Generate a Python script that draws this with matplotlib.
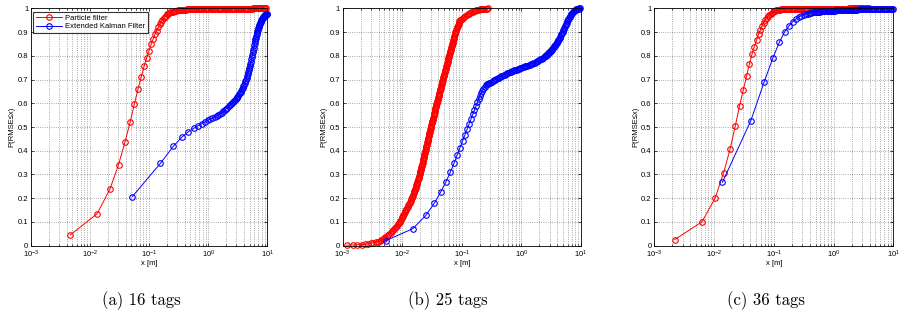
import matplotlib
matplotlib.use("Agg")
import numpy as np
import matplotlib.pyplot as plt
from matplotlib.ticker import FixedLocator, LogLocator, NullFormatter

plt.rcParams["font.family"] = ["Liberation Sans", "DejaVu Sans"]
plt.rcParams["mathtext.fontset"] = "custom"
plt.rcParams["mathtext.rm"] = "Liberation Sans"
plt.rcParams["mathtext.it"] = "Liberation Sans:italic"
plt.rcParams["mathtext.bf"] = "Liberation Sans:bold"

# ---------------- (a) 16 tags ----------------
pf_a_x = [0.0046, 0.0132, 0.0218, 0.0304, 0.0390, 0.0476, 0.0562, 0.0648, 0.0734, 0.0820,
          0.0906, 0.0992, 0.1078, 0.1164, 0.1250, 0.1336, 0.1422, 0.1508, 0.1594, 0.1680,
          0.1766, 0.1852, 0.1938, 0.2024, 0.2110, 0.2196,
          0.22909, 0.23988, 0.25119, 0.26303, 0.27542, 0.28840, 0.30200, 0.31623, 0.33113, 0.34674,
          0.36308, 0.38019, 0.39811, 0.41687, 0.43652, 0.45709, 0.47863, 0.50119, 0.52481, 0.54954,
          0.57544, 0.60256, 0.63096, 0.66069, 0.69183, 0.72444, 0.75858, 0.79433, 0.83176, 0.87096,
          0.91201, 0.95499,
          1.0000, 1.0471, 1.0965, 1.1482, 1.2023, 1.2589, 1.3183, 1.3804, 1.4454, 1.5136,
          1.5849, 1.6596, 1.7378, 1.8197, 1.9055, 1.9953, 2.0893, 2.1878, 2.2909, 2.3988,
          2.5119, 2.6303, 2.7542, 2.8840, 3.0200, 3.1623, 3.3113, 3.4674, 3.6308, 3.8019,
          3.9811, 4.1687, 4.3652, 4.5709, 4.7863, 5.0119, 5.2481, 5.4954, 5.7544, 6.0256,
          6.3096, 6.6069, 6.9183, 7.2444, 7.5858, 7.9433, 8.3176, 8.7096, 9.1201, 9.5499]
pf_a_y = [0.045, 0.135, 0.240, 0.342, 0.437, 0.520, 0.597, 0.660, 0.711, 0.755,
          0.791, 0.822, 0.848, 0.870, 0.890, 0.906, 0.920, 0.932, 0.942, 0.951,
          0.958, 0.964, 0.969, 0.974, 0.978, 0.981,
          0.983, 0.985, 0.986, 0.988, 0.989, 0.990, 0.991, 0.992, 0.992, 0.993,
          0.993, 0.994, 0.994, 0.994, 0.995, 0.995, 0.995, 0.995, 0.996, 0.996,
          0.996, 0.996, 0.996, 0.997, 0.997, 0.997, 0.997, 0.997, 0.997, 0.997,
          0.997, 0.998,
          0.998, 0.998, 0.998, 0.998, 0.998, 0.998, 0.998, 0.998, 0.998, 0.998,
          0.998, 0.998, 0.998, 0.998, 0.998, 0.998, 0.998, 0.998, 0.998, 0.998,
          0.998, 0.998, 0.998, 0.998, 0.998, 0.998, 0.998, 0.998, 0.999, 0.999,
          0.999, 0.999, 0.999, 0.999, 0.999, 0.999, 0.999, 0.999, 1.000, 1.000,
          1.000, 1.000, 1.000, 1.000, 1.000, 1.000, 1.000, 1.000, 1.000, 1.000]

ekf_a_x = [0.052, 0.155, 0.257, 0.360, 0.462, 0.565, 0.668, 0.770, 0.873, 0.975,
           1.078, 1.181, 1.283, 1.386, 1.488, 1.591, 1.694, 1.796, 1.899, 2.001,
           2.104, 2.207, 2.309, 2.412, 2.514, 2.617, 2.720, 2.822, 2.925, 3.027,
           3.130, 3.233, 3.335, 3.438, 3.540, 3.643, 3.746, 3.848, 3.951, 4.053,
           4.156, 4.259, 4.361, 4.464, 4.566, 4.669, 4.772, 4.874, 4.977, 5.079,
           5.182, 5.285, 5.387, 5.490, 5.592, 5.695, 5.798, 5.900, 6.003, 6.105,
           6.208, 6.311, 6.413, 6.516, 6.618, 6.721, 6.824, 6.926, 7.029, 7.131,
           7.234, 7.337, 7.439, 7.542, 7.644, 7.747, 7.850, 7.952, 8.055, 8.157,
           8.260, 8.363, 8.465, 8.568, 8.670, 8.773, 8.876, 8.978, 9.081, 9.183,
           9.286, 9.389, 9.491, 9.594, 9.696, 9.799]
ekf_a_y = [0.207, 0.347, 0.419, 0.458, 0.480, 0.494, 0.505, 0.514, 0.521, 0.528,
           0.533, 0.537, 0.541, 0.546, 0.550, 0.555, 0.560, 0.566, 0.571, 0.577,
           0.582, 0.587, 0.591, 0.596, 0.601, 0.605, 0.610, 0.614, 0.619, 0.623,
           0.628, 0.632, 0.637, 0.642, 0.647, 0.653, 0.659, 0.665, 0.672, 0.678,
           0.685, 0.692, 0.699, 0.707, 0.715, 0.723, 0.731, 0.740, 0.748, 0.757,
           0.766, 0.775, 0.785, 0.794, 0.804, 0.814, 0.824, 0.834, 0.845, 0.853,
           0.861, 0.869, 0.877, 0.885, 0.891, 0.897, 0.903, 0.909, 0.915, 0.920,
           0.924, 0.929, 0.933, 0.937, 0.940, 0.944, 0.947, 0.950, 0.953, 0.955,
           0.957, 0.959, 0.962, 0.963, 0.965, 0.966, 0.968, 0.969, 0.970, 0.971,
           0.972, 0.973, 0.974, 0.975, 0.976, 0.977]

# ---------------- (b) 25 tags ----------------
pf_b_x = [0.00117, 0.00147, 0.00177, 0.00207, 0.00237, 0.00267, 0.00297, 0.00327, 0.00357, 0.00387,
          0.00417, 0.00447, 0.00477,
          0.00490, 0.00520, 0.00550, 0.00580, 0.00610,
          0.00639, 0.00668, 0.00697, 0.00726, 0.00755, 0.00783, 0.00812, 0.00841, 0.00870, 0.00899,
          0.00923, 0.00947, 0.00971, 0.00995, 0.01020, 0.01044, 0.01068, 0.01092, 0.01116, 0.01140,
          0.01171, 0.01202, 0.01233, 0.01264, 0.01295, 0.01325, 0.01356, 0.01387, 0.01418, 0.01449,
          0.01474, 0.01499, 0.01524, 0.01549, 0.01574, 0.01599, 0.01624, 0.01649, 0.01674, 0.01700,
          0.01725, 0.01750, 0.01775, 0.01800, 0.01825, 0.01850, 0.01875, 0.01900, 0.01925, 0.01950,
          0.01974, 0.01998, 0.02022, 0.02046, 0.02071, 0.02095, 0.02119, 0.02143, 0.02167, 0.02191,
          0.02215, 0.02239, 0.02263, 0.02287, 0.02312, 0.02336, 0.02360, 0.02384, 0.02408, 0.02432,
          0.02461, 0.02489, 0.02518, 0.02547, 0.02576, 0.02604, 0.02633, 0.02662, 0.02690, 0.02719,
          0.02748, 0.02776, 0.02805, 0.02834, 0.02863, 0.02891, 0.02920, 0.02949, 0.02977, 0.03006,
          0.03044, 0.03081, 0.03119, 0.03156, 0.03194, 0.03232, 0.03269, 0.03307, 0.03344, 0.03382,
          0.03420, 0.03457, 0.03495, 0.03532, 0.03570, 0.03608, 0.03645, 0.03683, 0.03720, 0.03758,
          0.03808, 0.03859, 0.03909, 0.03959, 0.04010, 0.04060, 0.04110, 0.04160, 0.04211, 0.04261,
          0.04311, 0.04362, 0.04412, 0.04462, 0.04513, 0.04563, 0.04613, 0.04663, 0.04714, 0.04764,
          0.04831, 0.04897, 0.04964, 0.05030, 0.05097, 0.05164, 0.05230, 0.05297, 0.05363, 0.05430,
          0.05497, 0.05563, 0.05630, 0.05696, 0.05763, 0.05830, 0.05896, 0.05963, 0.06029, 0.06095,
          0.06178, 0.06262, 0.06345, 0.06429, 0.06512, 0.06595, 0.06679, 0.06762, 0.06846, 0.06929,
          0.07012, 0.07096, 0.07179, 0.07262, 0.07346, 0.07429, 0.07513, 0.07596, 0.07679, 0.07762,
          0.07908, 0.08055, 0.08201, 0.08348, 0.08494, 0.08640, 0.08787, 0.08933, 0.09080, 0.09226,
          0.09550, 0.10000, 0.10471, 0.10965, 0.11482, 0.12023, 0.12589, 0.13183, 0.13804, 0.14454,
          0.15136, 0.15849, 0.16596, 0.17378, 0.18197, 0.19055, 0.19953, 0.20893, 0.21878, 0.22909,
          0.23988, 0.25119, 0.26303, 0.27542]
pf_b_y = [0.002, 0.003, 0.004, 0.005, 0.006, 0.008, 0.010, 0.012, 0.014, 0.017,
          0.020, 0.023, 0.027,
          0.030, 0.035, 0.040, 0.045, 0.050,
          0.055, 0.060, 0.065, 0.070, 0.075, 0.080, 0.085, 0.090, 0.095, 0.100,
          0.105, 0.110, 0.115, 0.120, 0.125, 0.130, 0.135, 0.140, 0.145, 0.150,
          0.155, 0.160, 0.165, 0.170, 0.175, 0.180, 0.185, 0.190, 0.195, 0.200,
          0.205, 0.210, 0.215, 0.220, 0.225, 0.230, 0.235, 0.240, 0.245, 0.250,
          0.255, 0.260, 0.265, 0.270, 0.275, 0.280, 0.285, 0.290, 0.295, 0.300,
          0.305, 0.310, 0.315, 0.320, 0.325, 0.330, 0.335, 0.340, 0.345, 0.350,
          0.355, 0.360, 0.365, 0.370, 0.375, 0.380, 0.385, 0.390, 0.395, 0.400,
          0.405, 0.410, 0.415, 0.420, 0.425, 0.430, 0.435, 0.440, 0.445, 0.450,
          0.455, 0.460, 0.465, 0.470, 0.475, 0.480, 0.485, 0.490, 0.495, 0.500,
          0.505, 0.510, 0.515, 0.520, 0.525, 0.530, 0.535, 0.540, 0.545, 0.550,
          0.555, 0.560, 0.565, 0.570, 0.575, 0.580, 0.585, 0.590, 0.595, 0.600,
          0.605, 0.610, 0.615, 0.620, 0.625, 0.630, 0.635, 0.640, 0.645, 0.650,
          0.655, 0.660, 0.665, 0.670, 0.675, 0.680, 0.685, 0.690, 0.695, 0.700,
          0.705, 0.710, 0.715, 0.720, 0.725, 0.730, 0.735, 0.740, 0.745, 0.750,
          0.755, 0.760, 0.765, 0.770, 0.775, 0.780, 0.785, 0.790, 0.795, 0.800,
          0.805, 0.810, 0.815, 0.820, 0.825, 0.830, 0.835, 0.840, 0.845, 0.850,
          0.855, 0.860, 0.865, 0.870, 0.875, 0.880, 0.885, 0.890, 0.895, 0.900,
          0.905, 0.910, 0.915, 0.920, 0.925, 0.930, 0.935, 0.940, 0.945, 0.950,
          0.952, 0.955, 0.959, 0.963, 0.967, 0.971, 0.975, 0.978, 0.981, 0.984,
          0.986, 0.988, 0.990, 0.991, 0.993, 0.994, 0.995, 0.996, 0.997, 0.998,
          0.998, 0.999, 0.999, 1.000]

ekf_b_x = [0.0053, 0.0151, 0.0249, 0.0347, 0.0445, 0.0543, 0.0641, 0.0739, 0.0837, 0.0935,
           0.1033, 0.1131, 0.1229, 0.1327, 0.1425, 0.1523, 0.1621, 0.1719, 0.1817, 0.1915,
           0.2013, 0.2111, 0.2209, 0.2307, 0.2405, 0.2503, 0.2601,
           0.27542, 0.28840, 0.30200, 0.31623, 0.33113, 0.34674, 0.36308, 0.38019, 0.39811, 0.41687,
           0.43652, 0.45709, 0.47863, 0.50119, 0.52481, 0.54954, 0.57544, 0.60256, 0.63096, 0.66069,
           0.69183, 0.72444, 0.75858, 0.79433, 0.83176, 0.87096, 0.91201, 0.95499,
           1.0000, 1.0471, 1.0965, 1.1482, 1.2023, 1.2589, 1.3183, 1.3804, 1.4454, 1.5136,
           1.5849, 1.6596, 1.7378, 1.8197, 1.9055, 1.9953, 2.0893, 2.1878, 2.2909, 2.3988,
           2.5119,
           2.5704, 2.6303, 2.6915, 2.7542, 2.8184, 2.8840, 2.9512, 3.0200, 3.0903, 3.1623,
           3.2359, 3.3113, 3.3884, 3.4674, 3.5481, 3.6308, 3.7154, 3.8019, 3.8905, 3.9811,
           4.0738, 4.1687, 4.2658, 4.3652, 4.4668, 4.5709, 4.6774, 4.7863, 4.8978, 5.0119,
           5.1286, 5.2481, 5.3703, 5.4954, 5.6234, 5.7544, 5.8884, 6.0256, 6.1660, 6.3096,
           6.4565, 6.6069, 6.7608, 6.9183, 7.0795, 7.2444, 7.4131, 7.5858, 7.7625, 7.9433,
           8.1283, 8.3176, 8.5114, 8.7096, 8.9125, 9.1201, 9.3325, 9.5499]
ekf_b_y = [0.021, 0.072, 0.128, 0.180, 0.228, 0.270, 0.310, 0.347, 0.382, 0.413,
           0.442, 0.468, 0.492, 0.514, 0.535, 0.554, 0.572, 0.589, 0.604, 0.618,
           0.631, 0.642, 0.652, 0.661, 0.668, 0.675, 0.680,
           0.680, 0.684, 0.687, 0.690, 0.694, 0.697, 0.700, 0.703, 0.706, 0.708,
           0.711, 0.714, 0.716, 0.719, 0.721, 0.723, 0.726, 0.728, 0.730, 0.733,
           0.735, 0.737, 0.739, 0.741, 0.742, 0.744, 0.746, 0.748,
           0.750, 0.752, 0.754, 0.755, 0.757, 0.759, 0.761, 0.763, 0.765, 0.767,
           0.769, 0.771, 0.773, 0.776, 0.779, 0.782, 0.785, 0.788, 0.791, 0.795,
           0.799,
           0.801, 0.803, 0.805, 0.807, 0.810, 0.812, 0.814, 0.817, 0.820, 0.823,
           0.826, 0.829, 0.832, 0.836, 0.840, 0.843, 0.846, 0.850, 0.854, 0.858,
           0.862, 0.867, 0.872, 0.876, 0.881, 0.886, 0.891, 0.896, 0.901, 0.907,
           0.912, 0.918, 0.924, 0.929, 0.935, 0.940, 0.945, 0.950, 0.954, 0.959,
           0.964, 0.968, 0.972, 0.976, 0.980, 0.983, 0.986, 0.988, 0.990, 0.992,
           0.994, 0.995, 0.996, 0.997, 0.998, 0.999, 1.000, 1.000]

# ---------------- (c) 36 tags ----------------
pf_c_x = [0.0022, 0.0063, 0.0104, 0.0145, 0.0186, 0.0227, 0.0268, 0.0309, 0.0350, 0.0391,
          0.0432, 0.0473, 0.0514, 0.0555, 0.0596, 0.0637, 0.0678, 0.0719, 0.0760, 0.0801,
          0.0842, 0.0883, 0.0924, 0.0965, 0.1006, 0.1047, 0.1088,
          0.11482, 0.12023, 0.12589, 0.13183, 0.13804, 0.14454, 0.15136, 0.15849, 0.16596, 0.17378,
          0.18197, 0.19055, 0.19953, 0.20893, 0.21878, 0.22909, 0.23988, 0.25119, 0.26303, 0.27542,
          0.28840, 0.30200, 0.31623, 0.33113, 0.34674, 0.36308, 0.38019, 0.39811, 0.41687, 0.43652,
          0.45709, 0.47863, 0.50119, 0.52481, 0.54954, 0.57544, 0.60256, 0.63096, 0.66069, 0.69183,
          0.72444, 0.75858, 0.79433, 0.83176, 0.87096, 0.91201, 0.95499,
          1.0000, 1.0471, 1.0965, 1.1482, 1.2023, 1.2589, 1.3183, 1.3804, 1.4454, 1.5136,
          1.5849, 1.6596, 1.7378, 1.8197, 1.9055, 1.9953, 2.0893, 2.1878, 2.2909, 2.3988,
          2.5119, 2.6303, 2.7542, 2.8840, 3.0200, 3.1623, 3.3113, 3.4674, 3.6308, 3.8019,
          3.9811]
pf_c_y = [0.026, 0.101, 0.200, 0.308, 0.408, 0.505, 0.590, 0.657, 0.714, 0.766,
          0.807, 0.839, 0.866, 0.890, 0.910, 0.927, 0.940, 0.951, 0.960, 0.967,
          0.973, 0.978, 0.982, 0.985, 0.988, 0.990, 0.992,
          0.993, 0.994, 0.994, 0.995, 0.995, 0.995, 0.996, 0.996, 0.996, 0.997,
          0.997, 0.997, 0.997, 0.997, 0.998, 0.998, 0.998, 0.998, 0.998, 0.998,
          0.998, 0.998, 0.999, 0.999, 0.999, 0.999, 0.999, 0.999, 0.999, 0.999,
          0.999, 0.999, 0.999, 0.999, 0.999, 0.999, 0.999, 0.999, 0.999, 0.999,
          0.999, 0.999, 0.999, 0.999, 0.999, 0.999, 0.999,
          0.999, 0.999, 0.999, 0.999, 0.999, 0.999, 0.999, 0.999, 0.999, 0.999,
          0.999, 0.999, 0.999, 1.000, 1.000, 1.000, 1.000, 1.000, 1.000, 1.000,
          1.000, 1.000, 1.000, 1.000, 1.000, 1.000, 1.000, 1.000, 1.000, 1.000,
          1.000]

ekf_c_x = [0.0138, 0.0413, 0.0688, 0.0963, 0.1238, 0.1513, 0.1788, 0.2063, 0.2338, 0.2613,
           0.2888, 0.3163, 0.3438, 0.3713, 0.3988, 0.4263,
           0.45709, 0.47863, 0.50119, 0.52481, 0.54954, 0.57544, 0.60256, 0.63096, 0.66069, 0.69183,
           0.72444, 0.75858, 0.79433, 0.83176, 0.87096, 0.91201, 0.95499,
           1.0000, 1.0471, 1.0965, 1.1482, 1.2023, 1.2589, 1.3183, 1.3804, 1.4454, 1.5136,
           1.5849, 1.6596, 1.7378, 1.8197, 1.9055, 1.9953, 2.0893, 2.1878, 2.2909, 2.3988,
           2.5119, 2.6303, 2.7542, 2.8840, 3.0200, 3.1623, 3.3113, 3.4674, 3.6308, 3.8019,
           3.9811, 4.1687, 4.3652, 4.5709, 4.7863, 5.0119, 5.2481, 5.4954, 5.7544, 6.0256,
           6.3096, 6.6069, 6.9183, 7.2444, 7.5858, 7.9433, 8.3176, 8.7096, 9.1201, 9.5499,
           10.000]
ekf_c_y = [0.267, 0.527, 0.689, 0.790, 0.857, 0.900, 0.925, 0.943, 0.955, 0.963,
           0.969, 0.973, 0.976, 0.978, 0.980, 0.982,
           0.983, 0.984, 0.984, 0.985, 0.985, 0.986, 0.986, 0.987, 0.987, 0.988,
           0.988, 0.988, 0.989, 0.989, 0.989, 0.990, 0.990,
           0.990, 0.990, 0.991, 0.991, 0.991, 0.991, 0.992, 0.992, 0.992, 0.992,
           0.993, 0.993, 0.993, 0.993, 0.993, 0.994, 0.994, 0.994, 0.994, 0.994,
           0.994, 0.995, 0.995, 0.995, 0.995, 0.995, 0.995, 0.995, 0.996, 0.996,
           0.996, 0.996, 0.996, 0.996, 0.996, 0.996, 0.996, 0.997, 0.997, 0.997,
           0.997, 0.997, 0.997, 0.997, 0.997, 0.997, 0.997, 0.997, 0.997, 0.997,
           0.997]

panels = [
    ("(a) 16 tags", pf_a_x, pf_a_y, ekf_a_x, ekf_a_y),
    ("(b) 25 tags", pf_b_x, pf_b_y, ekf_b_x, ekf_b_y),
    ("(c) 36 tags", pf_c_x, pf_c_y, ekf_c_x, ekf_c_y),
]
series_labels = ["Particle filter", "Extended Kalman Filter"]
y_ticks = [0, 0.1, 0.2, 0.3, 0.4, 0.5, 0.6, 0.7, 0.8, 0.9, 1]
y_tick_labels = ["0", "0.1", "0.2", "0.3", "0.4", "0.5", "0.6", "0.7", "0.8", "0.9", "1"]
x_ticks = [1e-3, 1e-2, 1e-1, 1e0, 1e1]
x_tick_labels = ["$10^{-3}$", "$10^{-2}$", "$10^{-1}$", "$10^{0}$", "$10^{1}$"]

W, H = 901, 320
fig = plt.figure(figsize=(W / 100, H / 100), dpi=100)

# axes boxes in pixels: (left, right); common top / bottom
ax_px = [(31.0, 267.3), (342.7, 581.0), (654.3, 893.3)]
top_px, bot_px = 8.3, 245.7
caption_px = [141, 448, 766]

for i, (caption, px, py, ex, ey) in enumerate(panels):
    l, r = ax_px[i]
    ax = fig.add_axes([l / W, 1 - bot_px / H, (r - l) / W, (bot_px - top_px) / H])
    style = dict(marker="o", mfc="none", ms=4.0, mew=0.8, lw=0.7, clip_on=False)
    ax.plot(px, py, color="#ff0000", label=series_labels[0], **style)
    ax.plot(ex, ey, color="#0000ff", label=series_labels[1], **style)

    ax.set_xscale("log")
    ax.set_xlim(1e-3, 10)
    ax.set_ylim(0, 1)
    ax.xaxis.set_major_locator(FixedLocator(x_ticks))
    ax.set_xticklabels(x_tick_labels)
    ax.xaxis.set_minor_locator(LogLocator(base=10, subs=np.arange(2, 10)))
    ax.xaxis.set_minor_formatter(NullFormatter())
    ax.set_yticks(y_ticks)
    ax.set_yticklabels(y_tick_labels)

    ax.grid(True, which="major", axis="both", color="0.35", linestyle=(0, (1, 2.2)), linewidth=0.5)
    ax.grid(True, which="minor", axis="x", color="0.35", linestyle=(0, (1, 2.2)), linewidth=0.5)
    ax.set_axisbelow(True)

    ax.tick_params(which="both", direction="in", top=True, right=True, width=0.5,
                   labelsize=5.5, colors="black")
    ax.tick_params(which="major", length=2.5, pad=2)
    ax.tick_params(which="minor", length=1.5)
    for s in ax.spines.values():
        s.set_linewidth(0.6)

    ax.set_xlabel("x [m]", fontsize=5.5, labelpad=0.5)
    ax.set_ylabel("P(RMSE\u2264x)", fontsize=5.5, labelpad=1.5)

    if i == 0:
        leg = ax.legend(loc="upper left", bbox_to_anchor=(0.01, 0.983), borderaxespad=0,
                        fontsize=5.5, frameon=True, fancybox=False, edgecolor="black",
                        handlelength=3.5, handletextpad=0.4, borderpad=0.3,
                        labelspacing=0.15)
        leg.get_frame().set_linewidth(0.8)

    fig.text(caption_px[i] / W, 1 - 301 / H, caption, ha="center", va="center",
             fontfamily="cmr10", fontsize=12)

fig.savefig("out.png", dpi=100)
